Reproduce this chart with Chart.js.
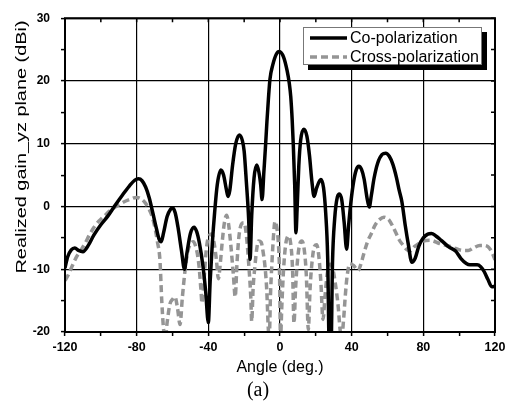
<!DOCTYPE html>
<html>
<head>
<meta charset="utf-8">
<script src="https://cdn.jsdelivr.net/npm/chart.js@4/dist/chart.umd.min.js"></script>
<style>
  html, body { margin: 0; padding: 0; background: #fff; }
  #wrap { width: 512px; height: 403px; position: relative; }
</style>
</head>
<body>
<div id="wrap"><canvas id="c" width="512" height="403"></canvas></div>
<script>
// ---- Data ----
const coAngles = [-120,-118.5,-116.5,-114.5,-112.5,-110,-107,-104,-100,-96,-92,-88,-84,-81,-79,-77,-75,-73,-71,-69,-67.5,-66.3,-65,-63,-61,-60,-58.5,-57,-55,-53.3,-52,-50,-48,-46.5,-45,-43,-41.5,-40,-39,-37.8,-36.5,-35,-33,-31.5,-30,-29,-28,-26.5,-24.7,-22.7,-21,-20,-18.8,-17.5,-16.7,-15.8,-14.5,-13,-11.8,-10.8,-10,-9,-8,-7.3,-6.5,-5.6,-4,-2,-0.4,2,4,5.2,6,6.8,7.4,8.2,8.9,9.6,10.5,11.5,13.3,15,16.5,17.8,19,20.5,22.8,24.3,25.5,26.6,27.6,28.4,29.3,30.5,32,33.2,34.5,35.8,37.2,38.3,39.5,41,42.5,44,45.5,47,48.5,49.8,51,52.5,54.5,57,59,61,63,65,66.5,68,70,71.6,73.6,75.5,77.5,80,82.5,84.5,87,90,94,98,101,104,106,108,110,112,114,116,118.2,120];
const coGain   = [-9.8,-8,-6.9,-6.6,-7.0,-7.2,-6.2,-4.6,-2.9,-1.5,0.2,1.8,3.3,4.2,4.4,4.1,3.1,1.4,-1,-3.5,-5.2,-5.6,-4.2,-1.6,-0.4,-0.2,-1,-3.2,-7,-10,-7.5,-4.3,-3.3,-4.0,-5.8,-9.5,-13.5,-18.5,-12,-6,-1,3.5,5.8,5.0,2.8,1.6,2.6,6.5,10,11.4,10.5,8.8,4,-2,-8.4,-1.5,4.5,6.6,5.5,3.5,1.1,5.5,10,13.5,17,20.3,22.6,24.3,24.7,23.8,21.6,19.6,17.5,13.8,10,3.5,-4.2,0,6.5,10.5,12.3,11.2,8,4,1.6,3,4.3,3,-1,-8,-24,-24,-9,-2,1.5,2.0,1,-2.5,-6.8,-3,0.5,3.8,5.8,6.4,5.9,4.3,1.5,-0.1,1.8,4.5,6.9,8.3,8.5,8.0,6.7,4.6,2.6,0.8,-3.2,-6,-8.9,-8.2,-6.3,-5,-4.4,-4.3,-4.7,-5.4,-6.4,-7.1,-8.3,-9.1,-9.3,-9.3,-9.3,-9.6,-10.4,-11.6,-12.8,-12.7];

const crossAngles = [-120,-118,-116,-113.5,-111.5,-109,-106.5,-104,-101,-98,-95,-92,-88,-84,-80,-77,-75,-73.5,-72,-70.7,-69.5,-68.5,-67,-66,-65,-64,-63,-61.4,-60,-58.6,-57.2,-55.8,-54.5,-53,-51.5,-50,-48.4,-46.5,-45.2,-44.2,-43.5,-42.5,-41,-39.5,-38.1,-36.8,-35.5,-34.4,-33.3,-32.2,-31,-29.8,-28.8,-27.5,-26,-25,-24,-23,-21.5,-20,-18.7,-17.5,-16.3,-15.8,-15,-14,-13,-12,-10.5,-9.3,-8.4,-7.4,-6.5,-6,-5.3,-4.5,-3.7,-2.8,-1.8,-1,-0.3,0.3,1,2,3.2,4.7,6,7,7.8,8.7,9.8,11,12.2,13.5,14.7,15.8,16.8,18,19.3,20.5,21.7,22.8,24,25.2,26.5,28,29.5,31,32.5,33.5,34.4,35.5,36.5,37.5,39,41,43.7,45,47,49,51,53,55.5,58,61,63,65,66.5,68.5,70.5,72.6,75,78,80,84,89,94,98,102,105,108,111.5,114,116,117.5,118.8,120];
const crossGain   = [-11.8,-10.8,-9.5,-8,-7.1,-6,-4.6,-3.4,-2.3,-1.5,-0.7,-0.1,0.6,1.1,1.45,1.1,0.5,-0.2,-1.1,-2.3,-3.8,-5.5,-8.6,-15,-19.5,-21,-18.5,-15.5,-14.8,-14.4,-16.2,-18.8,-14.5,-10.2,-7.2,-6,-5.6,-7,-9.5,-13,-15.4,-12,-6.5,-4.6,-4.4,-5.8,-8.5,-11.5,-9,-5.5,-2.5,-1.4,-2.6,-6,-11,-14.4,-9,-5,-2.8,-2.6,-4.8,-9,-14.5,-18.3,-13,-9.5,-6.8,-5.5,-5.7,-7.5,-9.5,-13.3,-19.6,-21,-14,-9,-5,-2.4,-3.3,-5.5,-10,-21,-16,-10,-6,-4.7,-6,-10,-18.6,-13,-8.5,-6,-5.5,-6.8,-11,-19.6,-13,-8.5,-6.3,-6.1,-8,-12,-18,-14,-10.5,-9.2,-10,-12.5,-16,-19.5,-21,-18,-14,-11,-9.1,-9.4,-10.2,-9.3,-7.3,-5.5,-4.3,-3,-2.1,-1.7,-2.2,-3.2,-4.4,-5.3,-6.1,-6.8,-7.1,-6.4,-5.8,-5.5,-5.4,-5.9,-6.3,-6.7,-7.0,-7.0,-6.6,-6.2,-6.2,-6.4,-6.9,-7.6,-8.5];

const seriesNames = ['Co-polarization', 'Cross-polarization'];
const xTickLabels = [-120, -80, -40, 0, 40, 80, 120];
const yTickLabels = [-20, -10, 0, 10, 20, 30];
const xTitle = 'Angle (deg.)';
const yTitle = 'Realized gain_yz plane (dBi)';
const caption = '(a)';

// ---- Chart ----
const SANS = '"Liberation Sans", Arial, sans-serif';
const SERIF = '"Liberation Serif", "Times New Roman", serif';
Chart.defaults.font.family = SANS;
Chart.defaults.color = '#000';

const toPts = (xs, ys) => xs.map((x, i) => ({ x: x, y: ys[i] }));
const GRAY = '#959595';

const decorPlugin = {
  id: 'decor',
  afterDatasetsDraw(chart) {
    const { ctx, chartArea: a, scales: { x, y } } = chart;
    ctx.save();
    ctx.strokeStyle = '#000';
    ctx.lineWidth = 1.5;
    ctx.beginPath();
    for (let v = -120; v <= 120; v += 20) {
      const px = x.getPixelForValue(v);
      ctx.moveTo(px, a.top); ctx.lineTo(px, a.top + 4);
    }
    for (let v = -20; v <= 30; v += 5) {
      const py = y.getPixelForValue(v);
      ctx.moveTo(a.right, py); ctx.lineTo(a.right - 4, py);
    }
    ctx.stroke();
    ctx.lineWidth = 2;
    ctx.strokeRect(a.left, a.top, a.right - a.left, a.bottom - a.top);
    ctx.restore();
  },
  afterDraw(chart) {
    const { ctx } = chart;
    const ds = chart.data.datasets;
    ctx.save();
    // legend box with shadow
    const bx = 303, by = 27, bw = 179, bh = 38;
    ctx.fillStyle = '#000';
    ctx.fillRect(bx + 5, by + 5, bw, bh);
    ctx.fillStyle = '#fff';
    ctx.fillRect(bx, by, bw, bh);
    ctx.strokeStyle = '#777';
    ctx.lineWidth = 1;
    ctx.strokeRect(bx + 0.5, by + 0.5, bw - 1, bh - 1);
    const rows = [38, 57];
    ds.forEach((d, i) => {
      ctx.strokeStyle = d.borderColor;
      ctx.lineWidth = 3.5;
      ctx.setLineDash(d.borderDash || []);
      ctx.beginPath();
      ctx.moveTo(310, rows[i]); ctx.lineTo(347, rows[i]);
      ctx.stroke();
      ctx.setLineDash([]);
      ctx.fillStyle = '#000';
      ctx.font = '16px ' + SANS;
      ctx.textAlign = 'left';
      ctx.textBaseline = 'middle';
      ctx.fillText(d.label, 350, rows[i] + 0.5);
    });
    // y axis title
    ctx.save();
    ctx.translate(22, 147);
    ctx.rotate(-Math.PI / 2);
    ctx.font = '15px ' + SANS;
    const w = ctx.measureText(yTitle).width;
    ctx.scale(253 / w, 1);
    ctx.textAlign = 'center';
    ctx.textBaseline = 'middle';
    ctx.fillStyle = '#000';
    ctx.fillText(yTitle, 0, 0);
    ctx.restore();
    // caption
    ctx.font = '20px ' + SERIF;
    ctx.textAlign = 'center';
    ctx.textBaseline = 'middle';
    ctx.fillStyle = '#000';
    ctx.fillText(caption, 258, 391);
    ctx.restore();
  }
};

new Chart(document.getElementById('c'), {
  type: 'line',
  data: {
    datasets: [
      {
        label: seriesNames[0],
        data: toPts(coAngles, coGain),
        borderColor: '#000',
        borderWidth: 3.5,
        pointRadius: 0,
        cubicInterpolationMode: 'monotone',
        fill: false,
        clip: 0
      },
      {
        label: seriesNames[1],
        data: toPts(crossAngles, crossGain),
        borderColor: GRAY,
        borderWidth: 3.5,
        borderDash: [7, 4],
        pointRadius: 0,
        cubicInterpolationMode: 'monotone',
        fill: false,
        clip: 0
      }
    ]
  },
  options: {
    responsive: false,
    animation: false,
    devicePixelRatio: 1,
    layout: { padding: { top: 15, right: 17, left: 0, bottom: 0 } },
    plugins: { legend: { display: false }, tooltip: { enabled: false } },
    scales: {
      x: {
        type: 'linear',
        min: -120, max: 120,
        border: { display: false },
        grid: {
          color: c => (c.tick && xTickLabels.includes(c.tick.value)) ? '#000' : 'rgba(0,0,0,0)',
          lineWidth: 1.2,
          tickColor: '#000',
          tickLength: 4,
          tickWidth: 1.5
        },
        ticks: {
          stepSize: 20,
          autoSkip: false,
          maxRotation: 0,
          padding: 4,
          font: { size: 12.5, weight: 'bold' },
          callback: v => xTickLabels.includes(v) ? String(v) : ''
        },
        title: {
          display: true,
          text: xTitle,
          font: { size: 16 },
          padding: { top: 0, bottom: 26 }
        },
        afterFit: s => { s.height = 71; }
      },
      y: {
        type: 'linear',
        min: -20, max: 30,
        border: { display: false },
        grid: {
          color: c => (c.tick && yTickLabels.includes(c.tick.value)) ? '#000' : 'rgba(0,0,0,0)',
          lineWidth: 1.2,
          tickColor: '#000',
          tickLength: 4,
          tickWidth: 1.5
        },
        ticks: {
          stepSize: 5,
          autoSkip: false,
          padding: 11,
          font: { size: 12, weight: 'bold' },
          callback: v => yTickLabels.includes(v) ? String(v) : ''
        },
        afterFit: s => { s.width = 65; }
      }
    }
  },
  plugins: [decorPlugin]
});
</script>
</body>
</html>
